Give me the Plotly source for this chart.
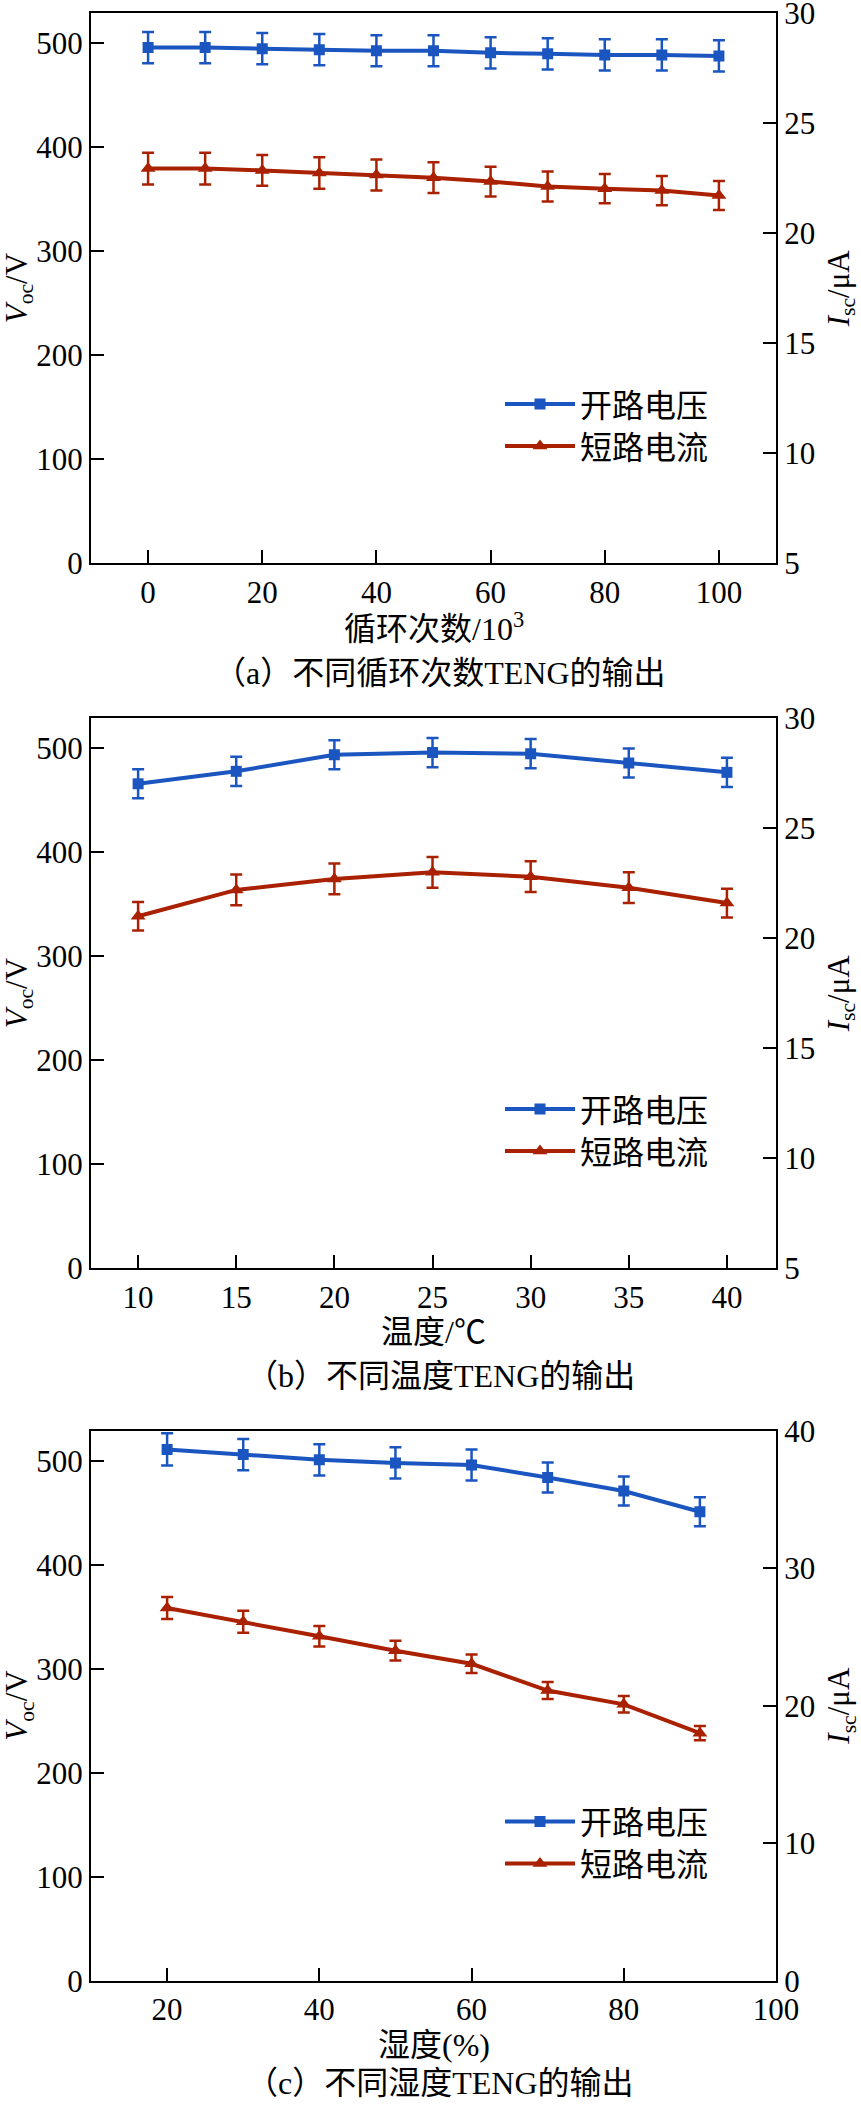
import plotly.graph_objects as go

# ---------------- data ----------------
cycles = [0, 10, 20, 30, 40, 50, 60, 70, 80, 90, 100]
voc_cycles = [496, 496, 495, 494, 493, 493, 491, 490, 489, 489, 488]
voc_cycles_err = [15, 15, 15, 15, 15, 15, 15, 15, 15, 15, 15]
isc_cycles = [22.94, 22.94, 22.86, 22.74, 22.65, 22.53, 22.35, 22.13, 22.03, 21.94, 21.72]
isc_cycles_err = [0.72, 0.72, 0.70, 0.72, 0.70, 0.70, 0.68, 0.68, 0.66, 0.66, 0.66]

temps = [10, 15, 20, 25, 30, 35, 40]
voc_temp = [466, 478, 494, 496, 495, 486, 477]
voc_temp_err = [14, 14, 14, 14, 14, 14, 14]
isc_temp = [21.0, 22.2, 22.7, 23.0, 22.8, 22.3, 21.6]
isc_temp_err = [0.65, 0.7, 0.7, 0.7, 0.7, 0.7, 0.65]

humid = [20, 30, 40, 50, 60, 70, 80, 90]
voc_humid = [511, 506, 501, 498, 496, 484, 471, 451]
voc_humid_err = [15.5, 15, 15, 15, 15, 14.5, 14, 14]
isc_humid = [27.1, 26.1, 25.05, 24.0, 23.05, 21.1, 20.1, 18.0]
isc_humid_err = [0.8, 0.8, 0.75, 0.72, 0.68, 0.62, 0.6, 0.52]

name_voc = "开路电压"
name_isc = "短路电流"
x_titles = ["循环次数/10<sup>3</sup>", "温度/℃", "湿度(%)"]
captions = ["（a）不同循环次数TENG的输出", "（b）不同温度TENG的输出", "（c）不同湿度TENG的输出"]
left_title = "<i>V</i><sub>oc</sub>/V"
right_title = "<i>I</i><sub>sc</sub>/μA"

# ---------------- layout geometry (px) ----------------
W, H = 861, 2107
ML, MR, MT, MB = 91, 85, 13, 126
PW = W - ML - MR
PH = H - MT - MB
panel_tops = [13.3, 718.3, 1430.7]
caption_offsets = [110, 108, 102]
panel_h = 550

def py(p):
    return 1 - (p - MT) / PH

def px(p):
    return (p - ML) / PW

BLUE = "#1b55c0"
RED = "#a92100"
SERIF = "Liberation Serif, Noto Sans CJK SC, serif"

fig = go.Figure()

panels = [
    (cycles, voc_cycles, voc_cycles_err, isc_cycles, isc_cycles_err, [-10, 110], [0, 20, 40, 60, 80, 100], [5, 30], [5, 10, 15, 20, 25, 30]),
    (temps, voc_temp, voc_temp_err, isc_temp, isc_temp_err, [7.6, 42.5], [10, 15, 20, 25, 30, 35, 40], [5, 30], [5, 10, 15, 20, 25, 30]),
    (humid, voc_humid, voc_humid_err, isc_humid, isc_humid_err, [10, 100], [20, 40, 60, 80, 100], [0, 40], [0, 10, 20, 30, 40]),
]

axis_common = dict(
    showline=True, linewidth=2, linecolor="black",
    ticks="inside", ticklen=13, tickwidth=2, tickcolor="black",
    showgrid=False, zeroline=False,
    tickfont=dict(family=SERIF, size=31, color="black"),
    ticklabeloverflow="allow",
)

def legend_spec(row_y):
    return dict(
        x=px(500), y=py(row_y), xanchor="left", yanchor="middle",
        xref="paper", yref="paper",
        bgcolor="rgba(0,0,0,0)", borderwidth=0,
        font=dict(family=SERIF, size=32, color="black"),
        itemwidth=70, visible=True,
    )

annotations = []
for i, (xv, voc, vocerr, isc, iscerr, xr, xt, y2r, y2t) in enumerate(panels):
    xa = "x" if i == 0 else f"x{i+1}"
    ya = "y" if i == 0 else f"y{2*i+1}"
    yb = f"y{2*i+2}"
    leg1 = "legend" if i == 0 else f"legend{2*i+1}"
    leg2 = f"legend{2*i+2}"
    fig.add_trace(go.Scatter(
        x=xv, y=voc, xaxis=xa, yaxis=ya, name=name_voc, legend=leg1, showlegend=True,
        mode="lines+markers",
        line=dict(color=BLUE, width=4),
        marker=dict(symbol="square", size=11, color=BLUE),
        error_y=dict(type="data", array=vocerr, color=BLUE, thickness=2.5, width=6),
    ))
    fig.add_trace(go.Scatter(
        x=xv, y=isc, xaxis=xa, yaxis=yb, name=name_isc, legend=leg2, showlegend=True,
        mode="lines+markers",
        line=dict(color=RED, width=4),
        marker=dict(symbol="triangle-up", size=13, color=RED),
        error_y=dict(type="data", array=iscerr, color=RED, thickness=2.5, width=6),
    ))
    top = panel_tops[i]
    bot = top + panel_h
    dom = [py(bot), py(top)]
    xkey = "xaxis" if i == 0 else f"xaxis{i+1}"
    ykey = "yaxis" if i == 0 else f"yaxis{2*i+1}"
    y2key = f"yaxis{2*i+2}"
    fig.update_layout(**{
        xkey: dict(domain=[0, 1], anchor=ya, range=xr, tickvals=xt, mirror=True, **axis_common),
        ykey: dict(domain=dom, anchor=xa, range=[0, 529], tickvals=[0, 100, 200, 300, 400, 500], **axis_common),
        y2key: dict(domain=dom, anchor=xa, overlaying=ya, side="right", range=y2r, tickvals=y2t, **axis_common),
        leg1: legend_spec(top + 391),
        leg2: legend_spec(top + 433),
    })
    cy = (top + bot) / 2
    annotations += [
        dict(text=left_title, x=px(19), y=py(cy), xref="paper", yref="paper",
             textangle=-90, showarrow=False, xanchor="center", yanchor="middle",
             font=dict(family=SERIF, size=31, color="black")),
        dict(text=right_title, x=px(841), y=py(cy), xref="paper", yref="paper",
             textangle=-90, showarrow=False, xanchor="center", yanchor="middle",
             font=dict(family=SERIF, size=31, color="black")),
        dict(text=x_titles[i], x=px(433.5), y=py(bot + 64), xref="paper", yref="paper",
             showarrow=False, xanchor="center", yanchor="middle",
             font=dict(family=SERIF, size=32, color="black")),
        dict(text=captions[i], x=px(440), y=py(bot + caption_offsets[i]), xref="paper", yref="paper",
             showarrow=False, xanchor="center", yanchor="middle",
             font=dict(family=SERIF, size=32, color="black")),
    ]

fig.update_layout(
    width=W, height=H,
    showlegend=True,
    margin=dict(l=ML, r=MR, t=MT, b=MB, autoexpand=False),
    paper_bgcolor="white", plot_bgcolor="white",
    annotations=annotations,
)

fig.write_html("out.html")
